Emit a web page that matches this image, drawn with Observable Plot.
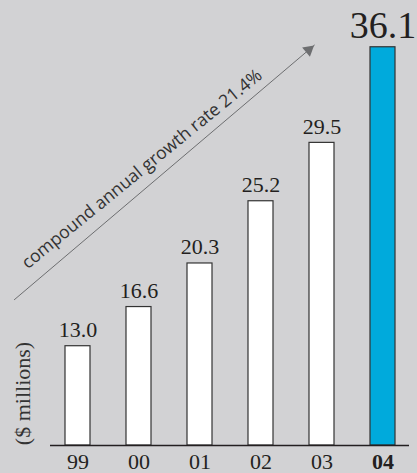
<!DOCTYPE html>
<html><head><meta charset="utf-8">
<script src="https://cdn.jsdelivr.net/npm/d3@7"></script>
<script src="https://cdn.jsdelivr.net/npm/@observablehq/plot@0.6"></script>
<style>
html,body{margin:0;padding:0;background:#d2d2d4;}
#chart svg{display:block;}
</style></head><body><div id="chart"></div>
<script>
// ---- data ----
const years = ["99", "00", "01", "02", "03", "04"];
const revenue = [13.0, 16.6, 20.3, 25.2, 29.5, 36.1];
const valueLabels = ["13.0", "16.6", "20.3", "25.2", "29.5", "36.1"];
const highlightYear = "04";
const growthText = "compound annual growth rate 21.4%";
const yAxisTitle = "($ millions)";
// annotation anchor points (in data units)
const arrowLine = [{x1: "99", y1: 21.74, x2: "03", y2: 36.67}];
const arrowHead = [{year: "03", value: 35.92}];
const growthTextPt = [{year: "00", value: 27.60}];
const yTitlePt = [{year: "99", value: 8.08}];

const data = years.map((y, i) => ({year: y, value: revenue[i], label: valueLabels[i]}));
const regular = data.filter(d => d.year !== highlightYear);
const highlight = data.filter(d => d.year === highlightYear);
const serif = "'Liberation Serif', 'Times New Roman', serif";
const sans = "'Open Sans', Lato, sans-serif";
const ink = "#231f20";

const chart = Plot.plot({
  width: 417, height: 473,
  marginTop: 0, marginBottom: 28, marginLeft: 47, marginRight: 4,
  style: {background: "#d2d2d4", fontFamily: serif, color: ink, overflow: "visible"},
  x: {type: "band", domain: years, paddingInner: 0.5902, paddingOuter: 0.2951, axis: null},
  y: {type: "pow", exponent: 1.36, domain: [0, 39.17], axis: null},
  marks: [
    Plot.barY(regular, {x: "year", y: "value", fill: "white", stroke: "#333", strokeWidth: 1.2}),
    Plot.barY(highlight, {x: "year", y: "value", fill: "#00aadc", stroke: "#333", strokeWidth: 1.2}),
    Plot.ruleY([0], {stroke: ink, strokeWidth: 1.4, insetLeft: 3, insetRight: 4}),
    Plot.text(regular, {x: "year", y: "value", text: "label", lineAnchor: "bottom", dy: -9,
      fontFamily: serif, fontSize: 22, fill: ink}),
    Plot.text(highlight, {x: "year", y: "value", text: "label", lineAnchor: "bottom", dy: -9,
      fontFamily: serif, fontSize: 38, fill: ink}),
    Plot.text(years.filter(y => y !== highlightYear), {x: d => d, frameAnchor: "bottom",
      lineAnchor: "top", dy: 8, fontFamily: serif, fontSize: 22, fill: ink}),
    Plot.text([highlightYear], {x: d => d, frameAnchor: "bottom",
      lineAnchor: "top", dy: 8, fontFamily: serif, fontSize: 22, fontWeight: "bold", fill: ink}),
    Plot.text(yTitlePt, {x: "year", y: "value", text: () => yAxisTitle, rotate: -90, dx: -55.5,
      fontFamily: serif, fontSize: 22, fill: "#333"}),
    Plot.arrow(arrowLine, {x1: "x1", y1: "y1", x2: "x2", y2: "y2", stroke: "#6d6e70",
      strokeWidth: 1, headLength: 0, insetStart: -83.4, insetEnd: 10}),
    Plot.dot(arrowHead, {x: "year", y: "value", symbol: "triangle", r: 4.5, fill: "#6d6e70",
      stroke: "none", rotate: 49.7, dx: -13.3}),
    Plot.text(growthTextPt, {x: "year", y: "value", text: () => growthText, rotate: -39.2,
      dx: 2.9, fontFamily: sans, fontSize: 17.6, fill: "#333",
      textAnchor: "middle", lineAnchor: "middle"})
  ]
});
document.getElementById("chart").appendChild(chart);
</script>
</body></html>
